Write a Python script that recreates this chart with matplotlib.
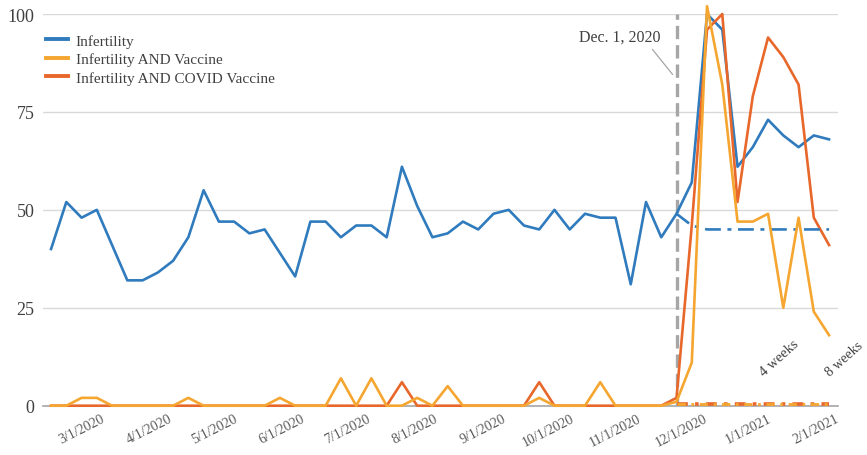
import pandas as pd
import matplotlib
matplotlib.use("Agg")
import matplotlib.pyplot as plt
import matplotlib.dates as mdates

plt.rcParams['font.family'] = ['Liberation Serif', 'DejaVu Serif']

# weekly search interest, week starting Sundays
dates = pd.date_range('2020-02-16', '2021-02-07', freq='7D')

infertility = [40, 52, 48, 50, 41, 32, 32, 34, 37, 43, 55, 47, 47, 44, 45, 39, 33, 47, 47, 43,
               46, 46, 43, 61, 51, 43, 44, 47, 45, 49, 50, 46, 45, 50, 45, 49, 48, 48, 31, 52,
               43, 49, 57, 100, 96, 61, 66, 73, 69, 66, 69, 68]
inf_vaccine = [0, 0, 2, 2, 0, 0, 0, 0, 0, 2, 0, 0, 0, 0, 0, 2, 0, 0, 0, 7,
               0, 7, 0, 0, 2, 0, 5, 0, 0, 0, 0, 0, 2, 0, 0, 0, 6, 0, 0, 0,
               0, 1, 11, 102, 82, 47, 47, 49, 25, 48, 24, 18]
inf_covid_vaccine = [0, 0, 0, 0, 0, 0, 0, 0, 0, 0, 0, 0, 0, 0, 0, 0, 0, 0, 0, 0,
                     0, 0, 0, 6, 0, 0, 0, 0, 0, 0, 0, 0, 6, 0, 0, 0, 0, 0, 0, 0,
                     0, 2, 46, 96, 100, 52, 79, 94, 89, 82, 48, 41]

# expected level after Dec. 1, 2020 (dash-dot)
proj_dates = dates[41:]
proj_infertility = [49, 46, 45, 45, 45, 45, 45, 45, 45, 45, 45]
proj_vaccine = [0.5, 0.5, 0.5, 0.5, 0.5, 0.5, 0.5, 0.5, 0.5, 0.5, 0.5]
proj_covid = [0.5, 0.5, 0.5, 0.5, 0.5, 0.5, 0.5, 0.5, 0.5, 0.5, 0.5]

labels = ['Infertility', 'Infertility AND Vaccine', 'Infertility AND COVID Vaccine']
blue, yellow, orange = '#2f7bbd', '#f5a630', '#e8672b'
text_c = '#404040'

fig = plt.figure(figsize=(8.67, 4.56), dpi=100)
ax = fig.add_axes([43 / 867, 49.3 / 456, 795 / 867, 391.7 / 456])

ax.plot(dates, infertility, color=blue, lw=1.9, label=labels[0], zorder=3, clip_on=False)
ax.plot(dates, inf_vaccine, color=yellow, lw=1.9, label=labels[1], zorder=4, clip_on=False)
ax.plot(dates, inf_covid_vaccine, color=orange, lw=1.9, label=labels[2], zorder=3, clip_on=False)

ax.plot(proj_dates, proj_infertility, color=blue, lw=1.9, ls=(0, (6, 2.5, 1.5, 2.5)), zorder=3)
ax.plot(proj_dates, proj_covid, color=orange, lw=2.6, ls=(0, (3, 2, 1, 2)), zorder=5, clip_on=False)
ax.plot(proj_dates, proj_vaccine, color=yellow, lw=2.0, ls=(0, (3, 2, 1, 2)), zorder=5, clip_on=False)

ax.axvline(dates[41], ymin=0, ymax=1, color='#a6a6a6', lw=2.4, ls=(0, (4, 1.8)), zorder=2)
ax.annotate('Dec. 1, 2020', xy=(dates[40] + pd.Timedelta(days=6), 84),
            xytext=(dates[37] + pd.Timedelta(days=2), 94.3),
            ha='center', va='center', fontsize=11.5, color=text_c,
            arrowprops=dict(arrowstyle='-', color='#a6a6a6', lw=0.9, relpos=(0.85, 0)))

ax.text(dates[47] + pd.Timedelta(days=5), 12.4, '4 weeks', rotation=42, fontsize=10.5,
        color=text_c, ha='center', va='center')
ax.text(dates[51] + pd.Timedelta(days=7), 12.2, '8 weeks', rotation=42, fontsize=10,
        color=text_c, ha='center', va='center')

ax.set_ylim(0, 100)
ax.set_yticks([0, 25, 50, 75, 100])
ax.set_xlim(dates[0] - pd.Timedelta(days=3.7), dates[-1] + pd.Timedelta(days=4.1))
ax.xaxis.set_major_locator(mdates.MonthLocator())
ax.xaxis.set_major_formatter(mdates.DateFormatter('%-m/%-d/%Y'))
ax.tick_params(axis='x', length=0, labelsize=10, labelcolor='#595959', pad=4)
ax.tick_params(axis='y', length=0, labelsize=13, labelcolor=text_c, pad=6)
for lab in ax.get_xticklabels():
    lab.set_rotation(27)
    lab.set_ha('center')

ax.yaxis.grid(True, color='#d9d9d9', lw=1)
ax.set_axisbelow(True)
for s in ['top', 'right', 'left']:
    ax.spines[s].set_visible(False)
ax.spines['bottom'].set_color('#a6a6a6')
ax.spines['bottom'].set_linewidth(1.2)

leg = ax.legend(loc='upper left', bbox_to_anchor=(46 / 867, 1 - 35 / 456), bbox_transform=fig.transFigure,
                frameon=False, fontsize=11, handlelength=1.45, handletextpad=0.5,
                labelspacing=0.3, borderpad=0, borderaxespad=0, labelcolor=text_c)
for h in leg.get_lines():
    h.set_linewidth(2.8)

fig.savefig('out.png', dpi=100)
